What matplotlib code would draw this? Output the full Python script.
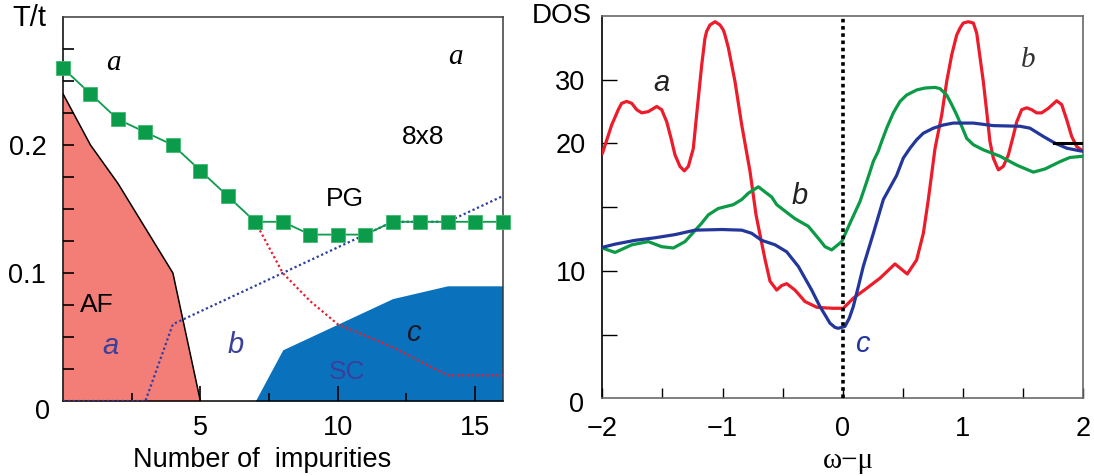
import numpy as np
import matplotlib
matplotlib.use("Agg")
import matplotlib.pyplot as plt
from matplotlib.ticker import FixedLocator, NullFormatter

plt.rcParams['font.family'] = ['Liberation Sans', 'DejaVu Sans']

# ---------------- Left panel data ----------------
n_imp = list(range(17))
t_pg = [0.26, 0.24, 0.22, 0.21, 0.20, 0.18, 0.16, 0.14, 0.14, 0.13, 0.13, 0.13,
        0.14, 0.14, 0.14, 0.14, 0.14]
af_x = [0, 1, 2, 3, 4, 5]
af_y = [0.24, 0.20, 0.17, 0.135, 0.10, 0.0]
sc_x = [7, 8, 10, 12, 14, 16]
sc_y = [0.0, 0.04, 0.06, 0.08, 0.09, 0.09]
blue_x = [0, 3, 4, 11, 12, 14, 16]
blue_y = [0.0, 0.0, 0.06, 0.13, 0.14, 0.14, 0.16]
red_x = [7, 8, 9, 10, 12, 14, 16]
red_y = [0.14, 0.10, 0.078, 0.06, 0.042, 0.02, 0.02]

# ---------------- Right panel data ----------------
red_w = [-2.0, -1.922, -1.867, -1.839, -1.797, -1.755, -1.714, -1.672, -1.617,
         -1.547, -1.506, -1.464, -1.428, -1.395, -1.354, -1.318, -1.284, -1.243,
         -1.215, -1.187, -1.173, -1.146, -1.132, -1.104, -1.062, -1.021, -0.993,
         -0.979, -0.951, -0.923, -0.896, -0.868, -0.840, -0.771, -0.721, -0.702,
         -0.646, -0.605, -0.549, -0.508, -0.466, -0.397, -0.314, -0.216, -0.14,
         -0.078, 0.005, 0.088, 0.20, 0.31, 0.435, 0.537, 0.615, 0.671, 0.712,
         0.768, 0.824, 0.865, 0.907, 0.948, 0.976, 1.003, 1.045, 1.087, 1.115,
         1.17, 1.198, 1.225, 1.253, 1.295, 1.336, 1.378, 1.414, 1.448, 1.489,
         1.531, 1.572, 1.614, 1.655, 1.71, 1.78, 1.822, 1.864, 1.905, 1.947, 2.0]
red_dos = [19.2, 22.9, 25.3, 26.3, 26.6, 26.3, 25.3, 24.8, 25.0,
           25.8, 25.3, 23.4, 20.8, 19.1, 18.2, 17.85, 18.2, 19.6,
           24.5, 29.7, 32.3, 36.5, 37.6, 38.6, 39.1, 38.6, 37.8,
           37.0, 35.0, 32.3, 29.7, 26.3, 22.9, 17.8, 14.4, 13.5,
           10.9, 9.2, 8.5, 8.85, 9.0, 8.5, 7.6, 7.15, 7.1,
           7.07, 7.07, 7.86, 8.64, 9.43, 10.55, 9.76, 10.86, 12.96, 15.57,
           19.6, 24.5, 29.7, 33.9, 37.0, 38.1, 38.9, 39.1, 38.9, 37.3,
           29.7, 25.0, 20.3, 18.85, 17.93, 18.2, 19.1, 20.8, 23.4, 25.3,
           25.6, 25.3, 24.8, 24.8, 25.5, 26.7, 26.1, 23.7, 21.1, 19.76, 19.4]

green_w = [-2.0, -1.894, -1.755, -1.617, -1.506, -1.409, -1.312, -1.173, -1.118,
           -1.035, -0.91, -0.84, -0.785, -0.702, -0.591, -0.549, -0.453, -0.397,
           -0.286, -0.189, -0.147, -0.092, -0.008, 0.061, 0.144, 0.20, 0.255,
           0.296, 0.324, 0.366, 0.421, 0.477, 0.532, 0.616, 0.685, 0.768, 0.81,
           0.865, 0.907, 0.948, 0.99, 1.032, 1.087, 1.17, 1.309, 1.448, 1.586,
           1.683, 1.814, 1.89, 2.0]
green_dos = [11.8, 11.45, 12.05, 12.3, 11.9, 11.8, 12.3, 13.75, 14.4,
             14.9, 15.2, 15.6, 16.1, 16.6, 15.8, 15.2, 14.5, 14.1,
             13.5, 12.4, 11.9, 11.65, 12.3, 13.75, 15.45, 17.0, 18.6,
             19.4, 20.3, 22.4, 24.8, 26.6, 27.6, 28.4, 28.7, 28.8, 28.6,
             27.6, 26.1, 24.5, 22.7, 20.8, 19.9, 19.5, 19.0, 18.3, 17.75,
             18.0, 18.6, 18.9, 19.0]

blue_w = [-2.0, -1.894, -1.728, -1.562, -1.395, -1.229, -1.007, -0.84, -0.757,
          -0.674, -0.563, -0.466, -0.369, -0.258, -0.189, -0.147, -0.106, -0.064,
          -0.037, 0.019, 0.055, 0.088, 0.13, 0.171, 0.213, 0.255, 0.296, 0.338,
          0.449, 0.504, 0.56, 0.616, 0.67, 0.754, 0.837, 0.92, 1.087, 1.253,
          1.475, 1.558, 1.669, 1.766, 1.864, 1.975, 2.0]
blue_dos = [11.85, 12.1, 12.4, 12.6, 12.85, 13.2, 13.25, 13.2, 12.95,
            12.4, 12.05, 11.5, 10.35, 8.5, 7.2, 6.55, 5.9, 5.57,
            5.5, 5.65, 6.3, 7.2, 8.77, 10.35, 11.65, 12.95, 14.26, 15.6,
            17.5, 18.85, 19.63, 20.6, 21.6, 22.4, 22.9, 23.2, 23.2, 22.8,
            22.7, 22.4, 21.1, 20.05, 19.63, 19.42, 19.4]

# ---------------- Figure ----------------
fig = plt.figure(figsize=(10.94, 4.76), dpi=100)
axL = fig.add_axes([63 / 1094, 1 - 401 / 476, 439.5 / 1094, 384 / 476])
axR = fig.add_axes([602.3 / 1094, 1 - 398.4 / 476, 480.8 / 1094, 382.4 / 476])

SPINE = '#3a3a3a'
GREEN = '#0a9c4a'
RED = '#ec1c2a'
DBLUE = '#23379b'
TXTBLUE = '#3a3f9c'

# ----- left -----
axL.fill_between(af_x, af_y, 0, color='#f37e78', lw=0, zorder=1)
axL.plot(af_x, af_y, color='black', lw=1.1, zorder=2)
axL.fill_between(sc_x, sc_y, 0, color='#0a72bc', lw=0, zorder=1)
axL.plot(blue_x, blue_y, color='#2c3ea3', lw=1.6, ls=(0, (1, 1.2)), zorder=3)
axL.plot(red_x, red_y, color=RED, lw=1.6, ls=(0, (1, 1.2)), zorder=3)
axL.plot(n_imp, t_pg, color=GREEN, lw=1.3, marker='s', ms=10, mfc=GREEN,
         mec='#3dbb6e', mew=0.6, zorder=5, clip_on=False)

axL.set_xlim(0, 16)
axL.set_ylim(0, 0.3)
axL.xaxis.set_major_locator(FixedLocator([5, 10, 15]))
axL.xaxis.set_minor_locator(FixedLocator([2.5, 7.5, 12.5]))
axL.yaxis.set_major_locator(FixedLocator([0.1, 0.2]))
axL.yaxis.set_minor_locator(FixedLocator([0.025, 0.05, 0.075, 0.125, 0.15, 0.175,
                                          0.225, 0.25, 0.275]))
axL.yaxis.set_minor_formatter(NullFormatter())
axL.set_yticklabels(['0.1', '0.2'])
axL.tick_params(axis='both', which='both', direction='in', labelsize=19.5,
                color='black', width=1.2)
axL.tick_params(axis='x', which='major', length=11, pad=10)
axL.tick_params(axis='x', which='minor', length=6)
axL.tick_params(axis='y', which='major', length=8, pad=12)
axL.tick_params(axis='y', which='minor', length=8)
for s in axL.spines.values():
    s.set_color(SPINE)
    s.set_linewidth(1.1)
axL.spines['bottom'].set_color('black')
axL.spines['left'].set_color('black')

fig.text(42 / 1094, 1 - 412 / 476, '0', fontsize=19.5, ha='center', va='center')
fig.text(29 / 1094, 1 - 18 / 476, 'T/t', fontsize=21, ha='center', va='center')
fig.text(262 / 1094, 1 - 460 / 476, 'Number of  impurities', fontsize=19.5,
         ha='center', va='center')

axL.text(1.82, 0.264, 'a', family='Liberation Serif', style='italic', fontsize=21,
         ha='center', va='center')
axL.text(14.27, 0.269, 'a', family='Liberation Serif', style='italic', fontsize=21,
         ha='center', va='center')
axL.text(13.1, 0.2065, '8x8', fontsize=19, ha='center', va='center')
axL.text(10.27, 0.1576, 'PG', fontsize=19, ha='center', va='center')
axL.text(1.24, 0.075, 'AF', fontsize=19, ha='center', va='center')
axL.text(1.73, 0.043, 'a', style='italic', fontsize=21, color=TXTBLUE,
         ha='center', va='center')
axL.text(6.3, 0.044, 'b', style='italic', fontsize=21, color=TXTBLUE,
         ha='center', va='center')
axL.text(12.76, 0.053, 'c', style='italic', fontsize=21, color='#1a1a2a',
         ha='center', va='center')
axL.text(10.33, 0.0229, 'SC', fontsize=19, color=TXTBLUE, ha='center', va='center')

# ----- right -----
def fwd(y):
    y = np.asarray(y, dtype=float)
    return np.where(y <= 20, y, 20 + (y - 20) / 2.0)


def inv(f):
    f = np.asarray(f, dtype=float)
    return np.where(f <= 20, f, 20 + 2.0 * (f - 20))


axR.set_yscale('function', functions=(fwd, inv))
axR.set_xlim(-2, 2)
axR.set_ylim(0, 40)

line_kw = dict(lw=2.3, solid_joinstyle='round', solid_capstyle='round')
axR.plot(red_w, red_dos, color=RED, zorder=3, **line_kw)
axR.plot(green_w, green_dos, color='#0b9a46', zorder=3, **line_kw)
axR.plot(blue_w, blue_dos, color=DBLUE, zorder=4, **line_kw)
axR.axvline(0, color='black', lw=2.6, ls=(0, (1, 1)), zorder=5)
axR.axhline(20, xmin=0.94, xmax=1.0, color='black', lw=2.2, zorder=6)

axR.xaxis.set_major_locator(FixedLocator([-2, -1, 0, 1, 2]))
axR.xaxis.set_minor_locator(FixedLocator([-1.5, -0.5, 0.5, 1.5]))
axR.set_xticklabels(['\u22122', '\u22121', '0', '1', '2'])
axR.yaxis.set_major_locator(FixedLocator([10, 20, 30]))
axR.yaxis.set_minor_locator(FixedLocator([5, 15]))
axR.yaxis.set_minor_formatter(NullFormatter())
axR.set_yticklabels(['10', '20', '30'])
axR.tick_params(axis='both', which='both', direction='in', labelsize=19.5,
                color='black', width=1.0)
axR.tick_params(axis='x', which='both', length=7, pad=13)
axR.tick_params(axis='y', which='both', length=11, pad=12)
for s in axR.spines.values():
    s.set_color('#6a6a6a')
    s.set_linewidth(1.2)
axR.spines['left'].set_color('black')

fig.text(577 / 1094, 1 - 405 / 476, '0', fontsize=19.5, ha='center', va='center')
fig.text(562 / 1094, 1 - 16 / 476, 'DOS', fontsize=20, ha='center', va='center')
fig.text(848 / 1094, 1 - 461 / 476, '\u03c9\u2212\u03bc', family='Liberation Serif',
         fontsize=21, ha='center', va='center')

axR.text(-1.506, 29.5, 'a', style='italic', fontsize=21, color='#222222',
         ha='center', va='center')
axR.text(-0.355, 15.9, 'b', style='italic', fontsize=21, color='#222222',
         ha='center', va='center')
axR.text(1.544, 33.1, 'b', family='Liberation Serif', style='italic', fontsize=21,
         color='#333333', ha='center', va='center')
axR.text(0.16, 4.3, 'c', style='italic', fontsize=21, color=DBLUE,
         ha='center', va='center')

fig.savefig('out.png', dpi=100)
